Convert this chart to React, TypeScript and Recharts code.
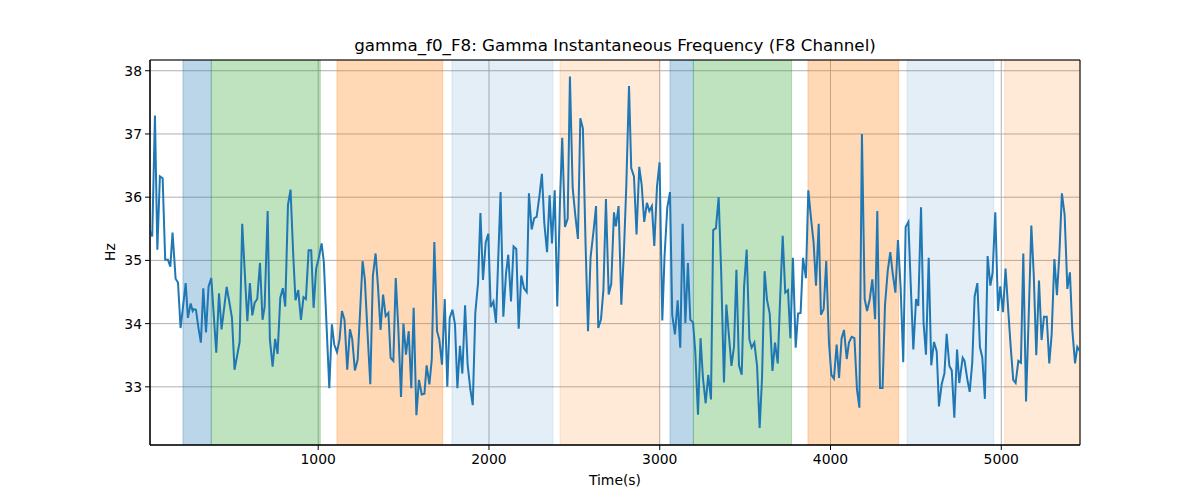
import { LineChart, Line, XAxis, YAxis, CartesianGrid, ReferenceArea } from 'recharts'

// samples: time (s) and gamma instantaneous frequency (Hz)
const timeS = [
  15, 28, 44, 58, 73, 89, 104, 120, 134, 147, 165, 179, 194, 224, 237, 253, 265, 272, 284, 300,
  313, 327, 343, 358, 374, 403, 419, 434, 464, 479, 495, 510, 540, 555, 585, 600, 614, 628, 643, 659,
  674, 686, 704, 717, 733, 748, 762, 778, 793, 807, 823, 838, 854, 867, 883, 899, 914, 928, 944, 959,
  973, 988, 1004, 1020, 1033, 1049, 1065, 1080, 1094, 1110, 1125, 1139, 1154, 1170, 1186, 1199, 1215, 1231, 1244, 1260,
  1273, 1289, 1305, 1320, 1336, 1350, 1365, 1380, 1395, 1411, 1424, 1440, 1454, 1469, 1485, 1499, 1514, 1530, 1545, 1559,
  1575, 1590, 1606, 1622, 1635, 1651, 1665, 1680, 1696, 1709, 1725, 1741, 1756, 1770, 1786, 1801, 1815, 1830, 1844, 1860,
  1875, 1891, 1905, 1920, 1936, 1950, 1965, 1981, 1996, 2010, 2026, 2041, 2068, 2084, 2100, 2113, 2129, 2144, 2160, 2174,
  2189, 2205, 2221, 2234, 2250, 2265, 2279, 2295, 2310, 2324, 2340, 2355, 2369, 2385, 2400, 2416, 2429, 2445, 2461, 2474,
  2490, 2506, 2521, 2535, 2550, 2566, 2580, 2595, 2611, 2627, 2640, 2656, 2670, 2685, 2701, 2716, 2732, 2743, 2759, 2775,
  2790, 2804, 2820, 2833, 2849, 2864, 2880, 2894, 2909, 2925, 2939, 2954, 2968, 2984, 2999, 3015, 3028, 3044, 3060, 3073,
  3089, 3105, 3120, 3134, 3150, 3165, 3179, 3195, 3208, 3224, 3239, 3253, 3269, 3284, 3300, 3313, 3329, 3345, 3360, 3376,
  3390, 3420, 3435, 3449, 3464, 3480, 3494, 3509, 3525, 3538, 3554, 3570, 3585, 3599, 3614, 3628, 3644, 3660, 3675, 3691,
  3704, 3720, 3735, 3751, 3765, 3780, 3796, 3810, 3825, 3839, 3856, 3870, 3886, 3901, 3915, 3931, 3944, 3960, 3975, 3991,
  4005, 4020, 4036, 4050, 4065, 4079, 4095, 4108, 4124, 4140, 4155, 4169, 4184, 4200, 4214, 4230, 4245, 4261, 4274, 4290,
  4305, 4319, 4335, 4350, 4364, 4380, 4395, 4411, 4426, 4440, 4456, 4469, 4485, 4501, 4514, 4530, 4545, 4559, 4575, 4590,
  4606, 4622, 4635, 4651, 4667, 4680, 4696, 4710, 4725, 4741, 4754, 4774, 4785, 4801, 4815, 4830, 4844, 4860, 4875, 4889,
  4904, 4920, 4936, 4949, 4965, 4981, 4994, 5010, 5025, 5041, 5055, 5070, 5084, 5100, 5115, 5129, 5145, 5160, 5176, 5190,
  5205, 5221, 5236, 5250, 5266, 5281, 5295, 5311, 5326, 5340, 5355, 5371, 5387, 5402, 5416, 5432, 5445, 5461,
]

const freqHz = [
  35.46, 35.38, 37.29, 35.17, 36.33, 36.3, 35.01, 35.01, 34.9, 35.44, 34.71, 34.65, 33.93, 34.64, 34.09, 34.32, 34.2, 34.23, 34.22, 33.91,
  33.7, 34.56, 33.86, 34.59, 34.72, 33.54, 34.48, 33.91, 34.58, 34.35, 34.09, 33.27, 33.71, 35.58, 34.04, 34.64, 34.13, 34.33, 34.39, 34.96,
  34.06, 34.26, 35.78, 33.75, 33.32, 33.76, 33.52, 34.41, 34.56, 34.27, 35.88, 36.12, 35.07, 34.37, 34.53, 34.06, 34.42, 34.39, 35.16, 35.16,
  34.25, 34.87, 35.05, 35.27, 34.97, 33.96, 32.98, 33.99, 33.67, 33.55, 33.75, 34.2, 34.06, 33.27, 33.91, 33.76, 33.26, 33.43, 34.12, 34.99,
  34.7, 33.85, 33.04, 34.75, 35.11, 34.59, 33.9, 34.46, 34.12, 34.17, 33.46, 33.41, 34.72, 33.93, 32.84, 34.0, 33.51, 33.88, 32.98, 34.25,
  32.55, 33.11, 32.88, 32.89, 33.34, 33.04, 33.43, 35.29, 33.88, 33.75, 33.35, 34.39, 33.0, 34.09, 34.22, 33.99, 32.98, 33.65, 33.21, 34.29,
  33.35, 32.96, 32.71, 34.17, 34.64, 35.75, 34.69, 35.29, 35.42, 34.26, 34.35, 34.01, 36.08, 34.11, 34.8, 35.09, 34.35, 35.22, 35.18, 33.92,
  34.76, 34.56, 34.5, 36.06, 35.49, 35.67, 35.69, 36.01, 36.37, 35.59, 35.13, 36.03, 35.27, 36.11, 34.27, 35.96, 36.94, 35.53, 35.66, 37.91,
  36.15, 35.7, 35.34, 37.25, 37.09, 35.22, 33.88, 35.05, 35.43, 35.86, 33.93, 34.07, 34.53, 35.97, 34.46, 34.63, 35.76, 35.54, 35.86, 34.3,
  35.12, 36.17, 37.76, 36.46, 36.33, 35.41, 36.48, 36.2, 35.61, 35.91, 35.78, 35.86, 35.23, 36.17, 36.55, 34.05, 35.06, 35.83, 36.08, 34.14,
  33.83, 34.37, 33.62, 35.58, 34.01, 34.96, 34.06, 34.02, 33.56, 32.56, 33.77, 33.14, 32.74, 33.19, 32.8, 35.48, 35.51, 36.0, 34.8, 33.07,
  34.3, 33.33, 33.64, 34.85, 33.34, 33.19, 34.59, 35.17, 33.75, 33.62, 33.7, 33.33, 32.35, 33.14, 34.83, 34.38, 34.16, 33.25, 33.7, 33.37,
  34.33, 35.39, 34.49, 34.53, 33.77, 35.04, 33.62, 34.16, 34.17, 35.04, 34.72, 36.11, 35.66, 35.28, 34.6, 35.58, 34.14, 34.23, 34.99, 33.7,
  33.19, 33.13, 33.67, 33.14, 33.77, 33.9, 33.44, 33.7, 33.79, 33.77, 32.96, 32.67, 37.0, 34.39, 34.2, 34.39, 34.7, 34.07, 35.78, 32.98,
  32.98, 34.29, 34.83, 35.13, 34.8, 34.49, 35.32, 34.55, 33.39, 35.53, 35.61, 34.67, 33.59, 34.39, 34.28, 35.84, 34.01, 33.51, 35.04, 33.34,
  33.71, 33.56, 32.69, 33.04, 33.21, 33.84, 33.33, 33.26, 32.51, 33.59, 33.06, 33.46, 33.41, 33.12, 32.92, 33.38, 34.43, 34.64, 33.63, 33.46,
  32.81, 35.07, 34.6, 34.8, 35.76, 34.2, 34.59, 34.18, 34.87, 34.2, 33.64, 33.11, 33.06, 33.41, 33.38, 35.11, 32.77, 34.06, 35.55, 34.78,
  33.5, 34.68, 33.74, 34.11, 34.11, 33.37, 33.83, 35.02, 34.45, 35.09, 36.06, 35.72, 34.55, 34.81, 33.9, 33.37, 33.63, 33.56,
]

// shaded epochs (seconds)
const bandStart = [208, 374, 1110, 1783, 2416, 3060, 3197, 3868, 4448, 5020]
const bandEnd = [374, 1012, 1729, 2375, 2998, 3197, 3772, 4399, 4956, 5461]
const bandKind = ['blue', 'green', 'orange', 'paleBlue', 'paleOrange', 'blue', 'green', 'orange', 'paleBlue', 'paleOrange']

const xTicks = [1000, 2000, 3000, 4000, 5000]
const yTicks = [33, 34, 35, 36, 37, 38]

const X_MIN = 15
const X_MAX = 5461
const Y_MIN = 32.08
const Y_MAX = 38.17

const bandStyle: Record<string, { color: string; alpha: number }> = {
  blue: { color: '#1f77b4', alpha: 0.3 },
  green: { color: '#2ca02c', alpha: 0.3 },
  orange: { color: '#ff7f0e', alpha: 0.3 },
  paleBlue: { color: '#1f77b4', alpha: 0.12 },
  paleOrange: { color: '#ff7f0e', alpha: 0.16 },
}

const data = timeS.map((t, i) => ({ t, hz: freqHz[i] }))

const font = '"DejaVu Sans", sans-serif'
const tickStyle = { fontSize: 13.9, fill: '#000', fontFamily: font }

export default function App() {
  return (
    <div style={{ position: 'absolute', left: 0, top: 0, width: 1200, height: 500, background: '#fff', fontFamily: font }}>
      <div style={{ position: 'absolute', left: 150, top: 35, width: 930, textAlign: 'center', fontSize: 16.7, color: '#000' }}>
        gamma_f0_F8: Gamma Instantaneous Frequency (F8 Channel)
      </div>
      <LineChart width={1200} height={500} data={data} margin={{ top: 60, right: 120, bottom: 0, left: 0 }}>
        <CartesianGrid stroke="#b0b0b0" strokeWidth={1} />
        {bandStart.map((s, i) => {
          const st = bandStyle[bandKind[i]]
          return (
            <ReferenceArea
              key={i}
              x1={s}
              x2={bandEnd[i]}
              y1={Y_MIN}
              y2={Y_MAX}
              fill={st.color}
              fillOpacity={st.alpha}
              stroke={st.color}
              strokeOpacity={st.alpha}
              ifOverflow="hidden"
            />
          )
        })}
        <XAxis
          dataKey="t"
          type="number"
          domain={[X_MIN, X_MAX]}
          allowDataOverflow
          ticks={xTicks}
          tick={tickStyle}
          tickSize={5}
          tickMargin={4}
          axisLine={{ stroke: '#000' }}
          tickLine={{ stroke: '#000' }}
          height={55}
        />
        <YAxis
          type="number"
          domain={[Y_MIN, Y_MAX]}
          allowDataOverflow
          ticks={yTicks}
          tick={tickStyle}
          tickSize={5}
          tickMargin={3}
          axisLine={{ stroke: '#000' }}
          tickLine={{ stroke: '#000' }}
          width={150}
        />
        <Line
          type="linear"
          dataKey="hz"
          stroke="#1f77b4"
          strokeWidth={2}
          dot={false}
          isAnimationActive={false}
        />
        <ReferenceArea x1={X_MIN} x2={X_MAX} y1={Y_MIN} y2={Y_MAX} fill="none" stroke="#000" strokeWidth={1} />
      </LineChart>
      <div style={{ position: 'absolute', left: 150, top: 472, width: 930, textAlign: 'center', fontSize: 13.9, color: '#000' }}>
        Time(s)
      </div>
      <div
        style={{
          position: 'absolute',
          left: 110,
          top: 252,
          fontSize: 13.9,
          color: '#000',
          transform: 'translate(-50%, -50%) rotate(-90deg)',
        }}
      >
        Hz
      </div>
    </div>
  )
}
